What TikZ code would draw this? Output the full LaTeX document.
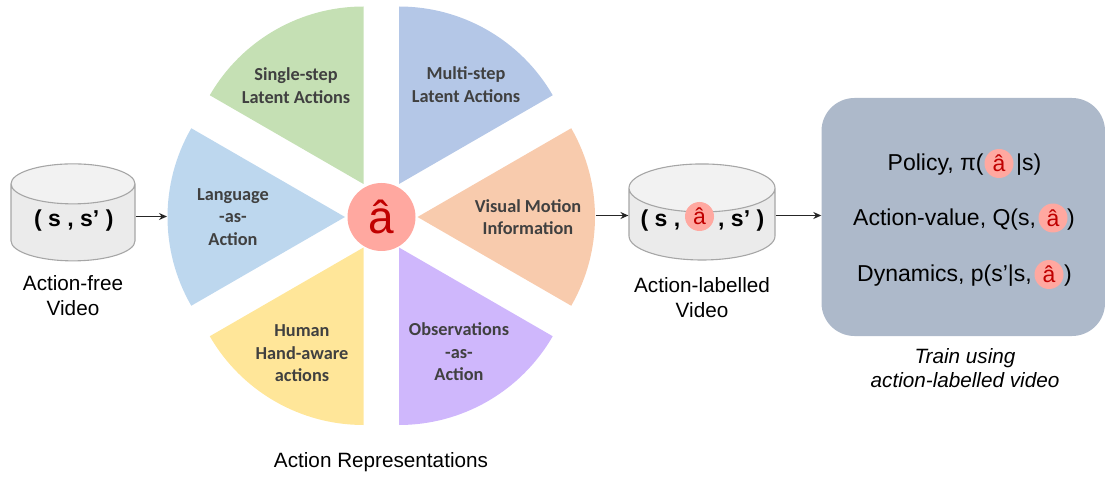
\documentclass[tikz,border=0pt]{standalone}
\usepackage{fontspec}
\setmainfont{Liberation Sans}
\newfontfamily\calfont{Carlito}
\usetikzlibrary{shapes.geometric}
\usetikzlibrary{positioning}
\usetikzlibrary{arrows.meta}
\definecolor{hatred}{HTML}{C00000}
\definecolor{hatfill}{HTML}{FFA8A0}
\definecolor{boxfill}{HTML}{ADB9CA}
\definecolor{wedgeg}{HTML}{C5E0B4}
\definecolor{wedgeb}{HTML}{B4C7E7}
\definecolor{wedgel}{HTML}{BDD7EE}
\definecolor{wedgeo}{HTML}{F8CBAD}
\definecolor{wedgey}{HTML}{FFE699}
\definecolor{wedgep}{HTML}{CFB7FC}
\tikzset{
    mycyl/.style = {cylinder, shape border rotate=90, draw=black!35, line width=1.1pt, cylinder uses custom fill, cylinder body fill=black!8, cylinder end fill=black!5, inner sep=20pt, minimum width=#1},
    myhat/.style = {circle, fill=hatfill, text=hatred, inner sep=0pt, minimum size=29pt, font=\fontsize{23}{23}\selectfont},
    mytag/.style = {align=center, text=black, font=\fontsize{20.7}{25}\selectfont},
    myrow/.style = {anchor=base west, inner sep=0pt, text=black, font=\fontsize{23}{28}\selectfont},
    mykey/.style = {anchor=base west, inner sep=0pt, text=black, font=\fontsize{23}{30}\selectfont\bfseries},
    mywedge/.style = {align=center, inner sep=0pt, text=black!75, font=\calfont\fontsize{18.3}{22.4}\selectfont\bfseries},
    edgen/.style = {-{Stealth[length=8pt,width=7pt]}, line width=1.5pt, black!85}
}
\begin{document}
\begin{tikzpicture}[x=1pt,y=1pt]
  \useasboundingbox (0,0) rectangle (1105,477);
  \foreach \ax/\ay/\sa/\wcol in {363.5/293/90/wedgeg, 399/293/30/wedgeb, 345/260/150/wedgel, 417.5/260/-30/wedgeo, 363.5/229.5/210/wedgey, 399/229.5/270/wedgep}
    \fill[\wcol] (\ax,\ay) -- ++(\sa:177.5pt) arc[start angle=\sa, delta angle=60, radius=177.5pt] -- cycle;

  \node[mywedge] (single) at (296,391.5) {Single-step\\Latent Actions};
  \node[mywedge] (multi) at (466,392.5) {Multi-step\\Latent Actions};
  \node[mywedge] (lang) at (233,260) {Language\\-as-\\Action};
  \node[mywedge] (visual) at (528,260) {Visual Motion\\Information};
  \node[mywedge] (human) at (302,123.5) {Human\\Hand-aware\\actions};
  \node[mywedge] (obs) at (459,125) {Observations\\-as-\\Action};
  \node[myhat, minimum size=68pt, font=\fontsize{46}{46}\selectfont] (hat) at (381.5,260) {â};

  % video stores
  \node[mycyl=124pt, minimum height=97pt, shape aspect=1] (free) at (73,247) {};
  \node[mycyl=146pt, minimum height=96pt, shape aspect=1.2] (labelled) at (702,244.5) {};
  \node[mykey] (freekey) at (34,250) {( s , s’ )};
  \node[mykey] (keya) at (640.5,250) {( s ,};
  \node[myhat] (keyhat) at (699.5,260.5) {â};
  \node[mykey] (keyb) at (718,250) {, s’ )};
  \node[mytag, below=11pt of free] (freetag) {Action-free\\Video};
  \node[mytag, below=13pt of labelled] (labelledtag) {Action-labelled\\Video};
  \node[mytag] (reptag) at (381,15) {Action Representations};

  % training box
  \node[rounded corners=33pt, fill=boxfill, minimum width=283.5pt, minimum height=238pt, inner sep=0pt] (train) at (963.25,260) {};
  \node[myrow] (pola) at (887.5,306) {Policy, π(};
  \node[myhat] (polhat) at (999,313.5) {â};
  \node[myrow] (polb) at (1016,306) {|s)};
  \node[myrow] (vala) at (853,251) {Action-value, Q(s,};
  \node[myhat] (valhat) at (1053,259) {â};
  \node[myrow] (valb) at (1067,251) {)};
  \node[myrow] (dyna) at (857,195.5) {Dynamics, p(s’|s,};
  \node[myhat] (dynhat) at (1049,202.5) {â};
  \node[myrow] (dynb) at (1064,195.5) {)};
  \node[mytag, font=\fontsize{20.7}{24}\selectfont\itshape] (traintag) at (965,108.5) {Train using\\action-labelled video};

  \coordinate (langedge) at (167,260.5);
  \coordinate (visedge) at (595.5,261.5);
  \draw[edgen] (free.east |- langedge) -- (langedge);
  \draw[edgen] (visedge) -- (labelled.west |- visedge);
  \draw[edgen] (labelled.east |- visedge) -- (train.west |- visedge);
\end{tikzpicture}
\end{document}
